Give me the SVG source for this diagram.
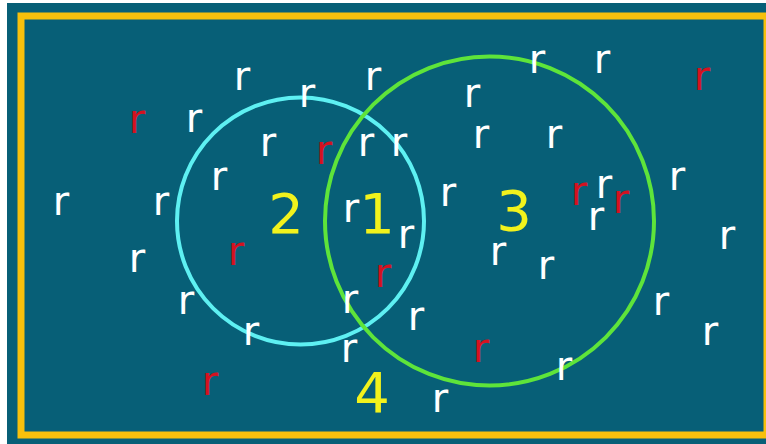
<svg xmlns="http://www.w3.org/2000/svg" width="766" height="444" viewBox="0 0 766 444">
<style>
.r{font-family:"DejaVu Sans",Verdana,sans-serif;font-size:40px;text-anchor:middle;fill:#ffffff}
.red{fill:#d3121f}
.num{font-family:"DejaVu Sans",Verdana,sans-serif;font-size:56px;text-anchor:middle;fill:#f2f21c}
</style>
<rect x="0" y="0" width="766" height="444" fill="#ffffff"/>
<rect x="7" y="3" width="759" height="441" fill="#075f77"/>
<g id="frame"><rect x="21" y="16" width="746" height="419" fill="none" stroke="#f7c00c" stroke-width="7"/></g>
<g id="set-cyan"><circle cx="300.5" cy="221" r="123.5" fill="none" stroke="#5ef0f2" stroke-width="4"/></g>
<g id="set-green"><circle cx="489.5" cy="221" r="164.5" fill="none" stroke="#5ee43a" stroke-width="4"/></g>
<g id="region-labels">
<text class="num" x="286" y="233">2</text>
<text class="num" x="377" y="233">1</text>
<text class="num" x="514" y="230">3</text>
<text class="num" x="372" y="412">4</text>
</g>
<g id="elements">
<text class="r" x="242" y="90">r</text>
<text class="r" x="373" y="90">r</text>
<text class="r" x="307" y="107">r</text>
<text class="r" x="537" y="73">r</text>
<text class="r" x="602" y="73">r</text>
<text class="r red" x="702" y="90">r</text>
<text class="r" x="472" y="107">r</text>
<text class="r red" x="137" y="133">r</text>
<text class="r" x="194" y="132">r</text>
<text class="r" x="268" y="156">r</text>
<text class="r red" x="324" y="164">r</text>
<text class="r" x="366" y="156">r</text>
<text class="r" x="399" y="156">r</text>
<text class="r" x="481" y="148">r</text>
<text class="r" x="554" y="148">r</text>
<text class="r" x="219" y="190">r</text>
<text class="r" x="61" y="215">r</text>
<text class="r" x="161" y="215">r</text>
<text class="r" x="351" y="222">r</text>
<text class="r" x="448" y="206">r</text>
<text class="r red" x="579" y="205">r</text>
<text class="r" x="604" y="198">r</text>
<text class="r red" x="621" y="213">r</text>
<text class="r" x="596" y="230">r</text>
<text class="r" x="677" y="190">r</text>
<text class="r" x="406" y="248">r</text>
<text class="r" x="727" y="249">r</text>
<text class="r" x="137" y="272">r</text>
<text class="r red" x="236" y="265">r</text>
<text class="r" x="498" y="265">r</text>
<text class="r" x="546" y="279">r</text>
<text class="r" x="186" y="314">r</text>
<text class="r" x="350" y="313">r</text>
<text class="r red" x="383" y="287">r</text>
<text class="r" x="416" y="330">r</text>
<text class="r" x="661" y="315">r</text>
<text class="r" x="710" y="345">r</text>
<text class="r" x="251" y="345">r</text>
<text class="r" x="349" y="362">r</text>
<text class="r red" x="481" y="362">r</text>
<text class="r" x="564" y="380">r</text>
<text class="r red" x="210" y="395">r</text>
<text class="r" x="440" y="412">r</text>
</g>
</svg>
